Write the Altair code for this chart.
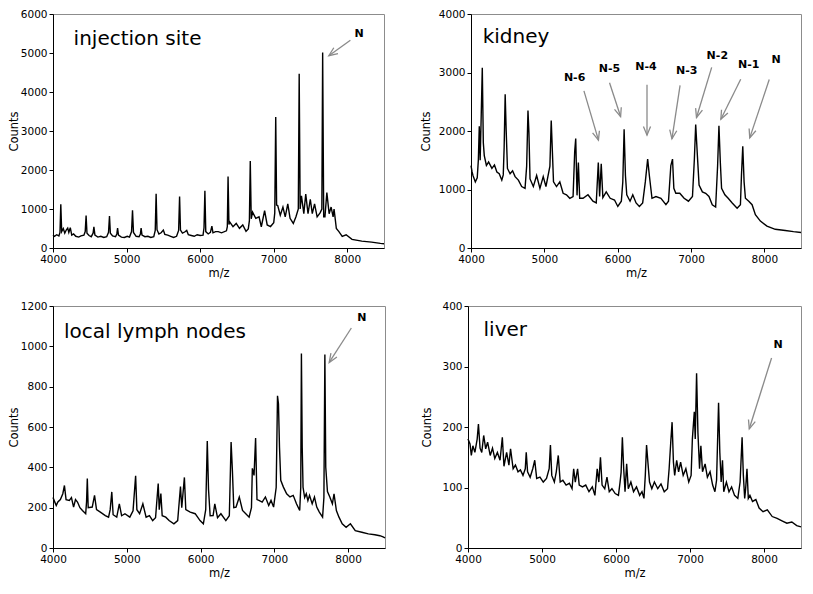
import math
import altair as alt
import pandas as pd

# ---------------- data ----------------
# injection site
inj_mz = [4000, 4020, 4050, 4080, 4095, 4106, 4118, 4140, 4160, 4180, 4200, 4215, 4235, 4255, 4280, 4310, 4350, 4380,
          4420, 4438, 4450, 4462, 4490, 4520, 4545, 4556, 4570, 4610, 4650, 4690, 4730, 4755, 4768, 4780, 4810, 4850,
          4868, 4878, 4890, 4930, 4970, 5010, 5040, 5068, 5081, 5094, 5130, 5170, 5188, 5198, 5210, 5250, 5290, 5330,
          5370, 5390, 5402, 5414, 5440, 5470, 5500, 5520, 5560, 5600, 5640, 5680, 5708, 5721, 5733, 5760, 5790, 5818,
          5840, 5880, 5920, 5960, 6000, 6040, 6053, 6065, 6077, 6110, 6140, 6160, 6175, 6210, 6247, 6291, 6358, 6370,
          6380, 6392, 6402, 6447, 6491, 6535, 6580, 6624, 6655, 6670, 6682, 6695, 6713, 6757, 6801, 6832, 6877, 6912,
          6957, 7001, 7015, 7028, 7040, 7055, 7090, 7126, 7157, 7192, 7223, 7267, 7303, 7335, 7347, 7360, 7378, 7410,
          7436, 7467, 7498, 7525, 7556, 7591, 7631, 7655, 7666, 7680, 7697, 7723, 7754, 7781, 7808, 7821, 7852, 7887,
          7932, 7985, 8065, 8198, 8331, 8451, 8500]
inj_ct = [330, 300, 340, 310, 400, 1120, 420, 500, 380, 460, 510, 400, 520, 330, 360, 300, 280, 310,
          330, 420, 830, 380, 320, 290, 380, 540, 330, 280, 300, 270, 290, 400, 820, 380, 310, 290,
          360, 510, 330, 280, 270, 300, 280, 420, 970, 400, 300, 290, 360, 510, 330, 290, 300, 270,
          290, 450, 1390, 470, 360, 390, 460, 350, 330, 300, 270, 300, 450, 1320, 460, 380, 410, 450,
          340, 320, 300, 340, 320, 330, 520, 1470, 420, 360, 400, 560, 390, 420, 420, 390, 440, 550,
          1830, 600, 670, 545, 630, 505, 590, 430, 490, 700, 2230, 750, 920, 760, 800, 545, 960, 590,
          550, 650, 900, 3360, 1100, 1090, 840, 1050, 800, 1130, 760, 630, 800, 1000, 4470, 1000, 1340, 880,
          1380, 880, 1250, 880, 1130, 800, 900, 1000, 5010, 800, 800, 1420, 880, 1050, 800, 1000, 500, 420,
          300, 340, 220, 175, 150, 118, 110]

# kidney
kid_mz = [4000, 4015, 4027, 4059, 4085, 4100, 4113, 4125, 4140, 4154, 4168, 4181, 4210, 4240, 4285, 4320, 4353, 4385,
          4420, 4440, 4452, 4466, 4480, 4497, 4533, 4567, 4601, 4646, 4691, 4737, 4759, 4777, 4790, 4805, 4850, 4895,
          4940, 4985, 5022, 5076, 5094, 5110, 5125, 5166, 5211, 5256, 5302, 5347, 5392, 5414, 5428, 5446, 5464, 5482,
          5528, 5595, 5663, 5708, 5736, 5754, 5776, 5798, 5844, 5898, 5957, 6002, 6050, 6070, 6088, 6106, 6124, 6169,
          6206, 6251, 6296, 6341, 6377, 6409, 6432, 6468, 6522, 6590, 6658, 6693, 6725, 6748, 6766, 6793, 6847, 6906,
          6965, 7020, 7046, 7064, 7087, 7110, 7155, 7200, 7245, 7290, 7336, 7363, 7381, 7400, 7417, 7462, 7507, 7562,
          7629, 7674, 7688, 7706, 7724, 7742, 7788, 7833, 7878, 7946, 8036, 8149, 8285, 8398, 8500]
kid_ct = [1410, 1300, 1240, 1130, 1200, 1500, 2080, 1500, 2300, 3080, 1800, 1580, 1410, 1470, 1360, 1420, 1300, 1270,
          1160, 1250, 1720, 2630, 2000, 1360, 1270, 1320, 1220, 1160, 1050, 1020, 1400, 2350, 1970, 1180, 1050, 1240,
          1020, 1220, 1050, 1400, 2180, 1640, 1130, 1050, 1130, 935, 910, 850, 880, 1650, 1870, 900, 1460, 850,
          850, 910, 800, 770, 1460, 880, 1440, 860, 960, 850, 820, 710, 800, 1130, 2030, 1240, 910, 800,
          910, 770, 710, 770, 1130, 1520, 1240, 850, 880, 850, 740, 800, 1410, 1520, 1020, 935, 935, 850,
          800, 880, 1520, 2110, 1580, 1075, 960, 935, 880, 740, 700, 1410, 2090, 1460, 1020, 910, 850, 770,
          680, 740, 1240, 1740, 1130, 850, 800, 740, 570, 460, 375, 320, 300, 280, 265]

# local lymph nodes
lym_mz = [4000, 4022, 4044, 4066, 4100, 4133, 4155, 4177, 4221, 4250, 4279, 4305, 4332, 4365, 4399, 4443, 4455, 4465,
          4477, 4532, 4563, 4590, 4642, 4709, 4753, 4775, 4797, 4815, 4864, 4899, 4930, 4975, 5041, 5085, 5120, 5137,
          5174, 5218, 5262, 5307, 5351, 5390, 5426, 5440, 5462, 5480, 5528, 5573, 5639, 5690, 5728, 5745, 5781, 5800,
          5860, 5927, 5993, 6038, 6070, 6091, 6108, 6130, 6170, 6193, 6230, 6276, 6343, 6390, 6414, 6432, 6450, 6481,
          6525, 6569, 6613, 6658, 6690, 6702, 6725, 6746, 6765, 6791, 6835, 6879, 6924, 6955, 6990, 7025, 7043, 7056,
          7070, 7087, 7123, 7167, 7212, 7256, 7300, 7344, 7358, 7367, 7378, 7389, 7411, 7433, 7455, 7477, 7513, 7544,
          7575, 7610, 7654, 7672, 7685, 7697, 7720, 7752, 7787, 7809, 7841, 7876, 7920, 7973, 8031, 8097, 8186, 8274,
          8363, 8430, 8474, 8500]
lym_ct = [250, 230, 211, 228, 240, 269, 310, 240, 236, 250, 203, 240, 228, 200, 186, 170, 230, 345,
          200, 203, 261, 190, 178, 161, 153, 190, 278, 165, 153, 219, 160, 170, 153, 185, 358, 190,
          170, 219, 153, 161, 136, 150, 320, 190, 270, 160, 153, 136, 120, 136, 305, 200, 350, 190,
          178, 170, 136, 120, 190, 530, 290, 160, 161, 219, 150, 170, 136, 160, 525, 380, 200, 203,
          253, 186, 170, 153, 200, 395, 360, 545, 240, 236, 228, 253, 211, 236, 203, 300, 755, 715,
          500, 336, 302, 269, 253, 261, 219, 186, 300, 965, 500, 302, 250, 269, 235, 261, 219, 253,
          203, 178, 153, 250, 960, 400, 280, 253, 219, 269, 186, 153, 120, 103, 120, 86, 78, 70,
          66, 61, 55, 50]

# liver
liv_mz = [4000, 4027, 4045, 4066, 4093, 4124, 4141, 4163, 4186, 4212, 4239, 4265, 4300, 4331, 4362, 4397, 4433, 4464,
          4486, 4522, 4553, 4575, 4610, 4641, 4676, 4708, 4743, 4774, 4787, 4805, 4840, 4875, 4902, 4928, 4972, 5017,
          5061, 5097, 5114, 5132, 5167, 5193, 5220, 5246, 5282, 5326, 5370, 5406, 5428, 5450, 5481, 5503, 5547, 5591,
          5635, 5680, 5715, 5746, 5768, 5790, 5812, 5848, 5878, 5909, 5945, 5989, 6033, 6055, 6069, 6086, 6104, 6122,
          6144, 6166, 6201, 6237, 6277, 6320, 6351, 6378, 6396, 6413, 6431, 6453, 6484, 6519, 6564, 6608, 6652, 6696,
          6718, 6740, 6758, 6776, 6793, 6820, 6846, 6873, 6908, 6944, 6983, 7015, 7032, 7058, 7071, 7089, 7107, 7129,
          7147, 7169, 7204, 7235, 7271, 7306, 7337, 7359, 7386, 7403, 7421, 7439, 7456, 7492, 7527, 7562, 7602, 7646,
          7677, 7704, 7721, 7739, 7752, 7770, 7788, 7810, 7845, 7890, 7934, 7987, 8045, 8111, 8177, 8243, 8309, 8376,
          8442, 8500]
liv_ct = [180, 172, 153, 169, 158, 180, 205, 165, 158, 186, 164, 175, 153, 165, 148, 158, 145, 183,
          135, 158, 137, 164, 131, 137, 126, 129, 120, 131, 158, 126, 117, 131, 145, 115, 117, 109,
          115, 131, 170, 120, 109, 126, 153, 109, 112, 104, 107, 98, 131, 109, 131, 104, 101, 104,
          93, 101, 87, 131, 109, 150, 104, 98, 117, 93, 98, 90, 87, 109, 125, 183, 131, 93,
          139, 98, 109, 93, 101, 87, 93, 82, 120, 170, 142, 109, 98, 109, 98, 106, 93, 98,
          131, 175, 208, 142, 120, 145, 126, 142, 120, 131, 109, 120, 180, 225, 180, 289, 191, 131,
          169, 126, 139, 117, 126, 104, 93, 112, 240, 158, 109, 145, 93, 109, 93, 101, 87, 82,
          109, 183, 120, 82, 98, 131, 82, 87, 77, 80, 66, 60, 63, 52, 49, 45, 41, 43,
          37, 35]

panel_names = ["injection site", "kidney", "local lymph nodes", "liver"]
y_max = [6000, 4000, 1200, 400]
y_step = [1000, 1000, 200, 100]
x_ticks = [4000, 5000, 6000, 7000, 8000]

# annotation anchors (data coordinates)
name_pos = [(4280, 5350), (4160, 3600), (4150, 1070), (4210, 360)]
peak_labels = [
    [("N", 8160, 5500)],
    [("N-6", 5413, 2900), ("N-5", 5889, 3059), ("N-4", 6386, 3099), ("N-3", 6942, 3031),
     ("N-2", 7359, 3283), ("N-1", 7788, 3127), ("N", 8159, 3211)],
    [("N", 8186, 1140)],
    [("N", 8191, 336)],
]
arrows = [  # tail mz, tail counts, head mz, head counts
    [(8043, 5328, 7750, 4930)],
    [(5540, 2685, 5738, 1844), (5889, 2824, 6040, 2247), (6400, 2791, 6400, 1929), (6851, 2779, 6740, 1866),
     (7282, 3087, 7075, 2231), (7678, 2886, 7407, 2202), (8067, 2880, 7801, 1883)],
    [(8044, 1091, 7744, 920)],
    [(8102, 314, 7801, 197)],
]

ARROW_COLOR = "#8a8a8a"
AXIS_FONT = "DejaVu Sans"


def make_panel(i, mz, ct, width, height, title_x):
    ymax = y_max[i]
    xs = alt.Scale(domain=[4000, 8500], nice=False, zero=False)
    ys = alt.Scale(domain=[0, ymax], nice=False)
    x_axis = alt.Axis(values=x_ticks, title="m/z", format="d", grid=False, labelFlush=False)
    y_axis = alt.Axis(values=list(range(0, ymax + 1, y_step[i])), title="Counts", format="d",
                      grid=False, labelFlush=False, titleX=title_x, titleY=height / 2)

    def X(field):
        return alt.X(field, type="quantitative", scale=xs, axis=x_axis)

    def Y(field):
        return alt.Y(field, type="quantitative", scale=ys, axis=y_axis)

    spec = pd.DataFrame({"mz": mz, "counts": ct})
    line = alt.Chart(spec).mark_line(color="black", strokeWidth=1.4).encode(x=X("mz"), y=Y("counts"))

    nm = pd.DataFrame({"mz": [name_pos[i][0]], "counts": [name_pos[i][1]], "t": [panel_names[i]]})
    name = alt.Chart(nm).mark_text(align="left", baseline="middle", font="DejaVu Sans", fontSize=20,
                                   color="black").encode(x=X("mz"), y=Y("counts"), text="t:N")

    pl = pd.DataFrame({"t": [p[0] for p in peak_labels[i]],
                       "mz": [p[1] for p in peak_labels[i]],
                       "counts": [p[2] for p in peak_labels[i]]})
    plabels = alt.Chart(pl).mark_text(align="center", baseline="middle", font=AXIS_FONT, fontSize=11,
                                      fontWeight="bold", color="black").encode(
        x=X("mz"), y=Y("counts"), text="t:N")

    rows = []
    for (tx, ty, hx, hy) in arrows[i]:
        dx = (hx - tx) / 4500.0 * width
        dy = -(hy - ty) / ymax * height
        ang = math.degrees(math.atan2(-dx, dy)) % 360
        rows.append({"mz": tx, "counts": ty, "mz2": hx, "counts2": hy, "ang": ang})
    ar = pd.DataFrame(rows)
    shafts = alt.Chart(ar).mark_rule(color=ARROW_COLOR, strokeWidth=1.3).encode(
        x=X("mz"), y=Y("counts"), x2="mz2:Q", y2="counts2:Q")
    heads = alt.Chart(ar).mark_point(shape="M -0.45 -1.1 L 0 0 L 0.45 -1.1", filled=False, size=250,
                                     color=ARROW_COLOR, strokeWidth=1.3, opacity=1).encode(
        x=X("mz2"), y=Y("counts2"), angle=alt.Angle("ang:Q", scale=None))

    return alt.layer(line, shafts, heads, plabels, name).properties(width=width, height=height)


p1 = make_panel(0, inj_mz, inj_ct, 331, 234, -33.5)
p2 = make_panel(1, kid_mz, kid_ct, 330, 234, -40)
p3 = make_panel(2, lym_mz, lym_ct, 332, 242, -33.5)
p4 = make_panel(3, liv_mz, liv_ct, 333, 242, -36)

chart = alt.vconcat(
    alt.hconcat(p1, p2, spacing=31),
    alt.hconcat(p3, p4, spacing=31),
    spacing=20,
).properties(padding=0).configure_view(
    stroke="#8c8c8c", strokeWidth=1
).configure_axis(
    domainColor="black", tickColor="black", labelColor="black", titleColor="black",
    labelFont=AXIS_FONT, titleFont=AXIS_FONT, labelFontSize=10.5, titleFontSize=11.5,
    titleFontWeight="normal", tickSize=4, labelPadding=2
).configure_axisX(titlePadding=3, labelPadding=2)

chart.save("out.html", embed_options={"renderer": "svg", "actions": False})
